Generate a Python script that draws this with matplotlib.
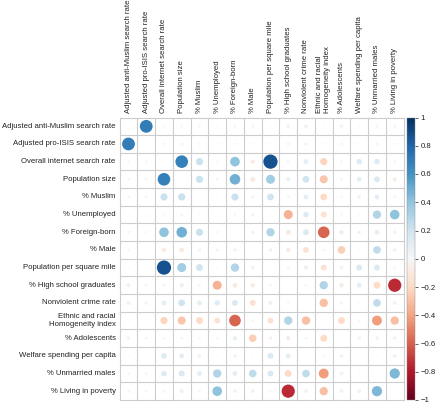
import numpy as np
import matplotlib
matplotlib.use("Agg")
import matplotlib.pyplot as plt
from matplotlib.cm import ScalarMappable
from matplotlib.colors import Normalize

plt.rcParams['font.family'] = ['Liberation Sans', 'DejaVu Sans']

variables = [
    "Adjusted anti-Muslim search rate",
    "Adjusted pro-ISIS search rate",
    "Overall internet search rate",
    "Population size",
    "% Muslim",
    "% Unemployed",
    "% Foreign-born",
    "% Male",
    "Population per square mile",
    "% High school graduates",
    "Nonviolent crime rate",
    "Ethnic and racial\nHomogeneity index",
    "% Adolescents",
    "Welfare spending per capita",
    "% Unmarried males",
    "% Living in poverty",
]

# upper triangle of the correlation matrix, row i lists columns i+1 .. 15
upper = [
    [0.70, 0.02, 0.03, 0.03, 0.01, 0.03, 0.03, 0.01, 0.06, 0.06, 0.01, 0.04, 0.01, 0.03, -0.03],
    [0.02, 0.03, 0.02, 0.01, 0.02, 0.01, 0.01, 0.03, 0.04, 0.01, 0.03, 0.01, 0.03, 0.02],
    [0.68, 0.22, 0.02, 0.40, -0.08, 0.87, 0.03, 0.10, -0.22, 0.02, 0.13, 0.13, 0.03],
    [0.22, 0.03, 0.48, -0.10, 0.35, 0.07, 0.20, -0.28, 0.03, 0.10, 0.15, -0.07],
    [0.01, 0.22, -0.04, 0.20, 0.03, 0.10, -0.20, 0.02, 0.05, 0.10, 0.03],
    [0.02, -0.04, 0.01, -0.35, 0.13, -0.15, 0.02, 0.01, 0.30, 0.40],
    [0.05, 0.30, -0.10, 0.15, -0.58, 0.08, 0.05, 0.10, -0.05],
    [-0.05, -0.08, -0.15, -0.03, -0.25, 0.01, 0.25, 0.05],
    [0.03, 0.07, -0.15, -0.05, 0.15, 0.15, 0.02],
    [0.02, 0.30, -0.08, 0.10, -0.20, -0.75],
    [-0.30, 0.03, 0.01, 0.25, 0.05],
    [-0.20, 0.02, -0.42, -0.30],
    [-0.05, 0.05, 0.05],
    [0.01, -0.06],
    [0.45],
]

cbar_ticks = [1, 0.8, 0.6, 0.4, 0.2, 0, -0.2, -0.4, -0.6, -0.8, -1]

n = len(variables)
R = np.eye(n)
for i, row in enumerate(upper):
    for k, v in enumerate(row):
        j = i + 1 + k
        R[i, j] = v
        R[j, i] = v

W, H, DPI = 440, 404, 100
fig = plt.figure(figsize=(W / DPI, H / DPI), dpi=DPI)

gx0, gx1 = 119.6, 403.6
gy0, gy1 = 117.5, 400.0
ax = fig.add_axes([gx0 / W, 1 - gy1 / H, (gx1 - gx0) / W, (gy1 - gy0) / H])
ax.set_xlim(0, n)
ax.set_ylim(n, 0)
ax.set_axis_off()

grid_col = "#cccccc"
for k in range(n + 1):
    ax.plot([k, k], [0, n], color=grid_col, lw=0.8, zorder=1, clip_on=False)
    ax.plot([0, n], [k, k], color=grid_col, lw=0.8, zorder=1, clip_on=False)

cell_px = (gx1 - gx0) / n
xs, ys, vals = [], [], []
for i in range(n):
    for j in range(n):
        if i == j:
            continue
        xs.append(j + 0.5)
        ys.append(i + 0.5)
        vals.append(R[i, j])
vals = np.array(vals)
diam_pt = 0.86 * np.sqrt(np.abs(vals)) * cell_px * 72 / DPI
cmap = plt.get_cmap("RdBu")
norm = Normalize(-1, 1)
ax.scatter(xs, ys, s=diam_pt ** 2, c=vals, cmap=cmap, norm=norm,
           edgecolors="none", zorder=2)

fs = 5.6
tc = "#222222"
for i, name in enumerate(variables):
    ax.text(-0.22, i + 0.5, name, ha="right", va="center", fontsize=fs,
            color=tc, multialignment="right")
    ax.text(i + 0.5, -0.25, name, ha="center", va="bottom", rotation=90,
            fontsize=fs, color=tc, multialignment="left",
            rotation_mode="anchor" if False else "default")

cax = fig.add_axes([407 / W, 1 - gy1 / H, 8 / W, (gy1 - gy0) / H])
cb = fig.colorbar(ScalarMappable(norm=norm, cmap=cmap), cax=cax, ticks=cbar_ticks)
cb.outline.set_linewidth(0.3)
cb.outline.set_edgecolor("#888888")
cax.tick_params(labelsize=fs, length=2, width=0.5, pad=2, colors=tc)
cax.set_yticklabels([("%g" % t).replace("-", "\u2212") for t in cbar_ticks])

fig.savefig("out.png", dpi=DPI)
